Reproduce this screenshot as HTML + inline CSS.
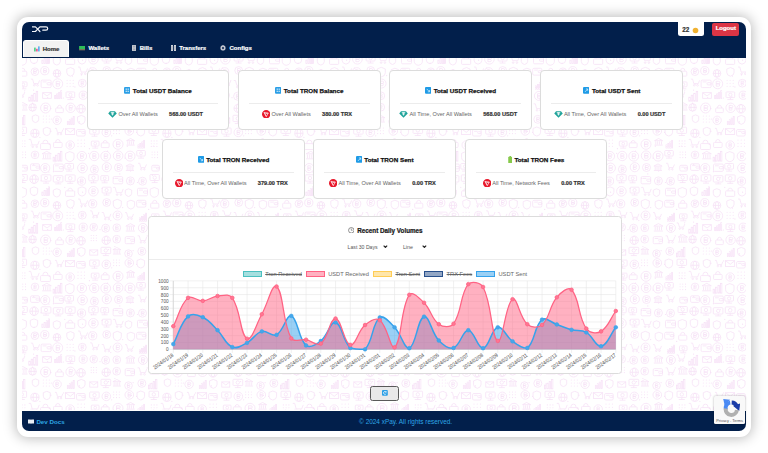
<!DOCTYPE html>
<html><head><meta charset="utf-8"><title>xPay Dashboard</title>
<style>
*{box-sizing:border-box;margin:0;padding:0}
html,body{width:768px;height:453px;overflow:hidden;background:#fff}
body{position:relative;font-family:"Liberation Sans",Arial,sans-serif;color:#222}
.frame{position:absolute;left:17px;top:16.5px;width:734px;height:420.3px;border-radius:11px;background:#fff;box-shadow:0 0 13px 1px rgba(0,0,0,.28)}
.page{position:absolute;left:22.3px;top:22.3px;width:723.5px;height:408.5px;border-radius:7px;overflow:hidden;background:#fff}
.hdr{position:absolute;left:0;top:0;width:100%;height:35.6px;background:#021f4b}
.pat{position:absolute;left:0;top:35.6px}
.ftr{position:absolute;left:0;top:389.0px;width:100%;height:19.5px;background:#021f4b}
.tab{position:absolute;top:17.7px;height:17px;font-weight:bold;font-size:6.0px;color:#fff;display:flex;align-items:center;white-space:nowrap}
.tab.act{left:0.7px;width:46.1px;background:#f2f2f2;border:0.8px solid #fff;border-bottom:none;border-radius:3px 3px 0 0;color:#333;padding-left:9.8px}
.tab svg{margin-right:3.2px}
.card{position:absolute;width:142.8px;height:60.6px;background:#fff;border:0.8px solid #dcdcdc;border-radius:4px}
.ct{position:absolute;left:0;right:0;top:16.9px;height:7px;display:flex;justify-content:center;align-items:center;font-weight:bold;font-size:6.25px;letter-spacing:0;color:#111;white-space:nowrap}
.ct .ti{margin-right:2.4px;flex:none;position:relative;top:-0.4px}
.cd{position:absolute;left:10px;right:10px;top:32.6px;height:0.8px;background:#ececec}
.cb{position:absolute;left:0;right:4.4px;top:39.4px;height:8.4px;display:flex;justify-content:center;align-items:center;white-space:nowrap;font-size:5.62px;color:#666}
.cb .ic{flex:none;margin-right:1px}
.cb .vl{font-weight:bold;color:#333;margin-left:11.3px;font-size:5.6px}
.chartcard{position:absolute;left:148.4px;top:216.3px;width:473.3px;height:157.8px;background:#fff;border:0.8px solid #dcdcdc;border-radius:3.5px}
.chart{position:absolute;left:148px;top:216px}
.yl{font-size:5.3px;fill:#666;stroke:#777;stroke-width:0.06px;text-anchor:end;font-family:"Liberation Sans",Arial,sans-serif}
.xl{font-size:5.45px;fill:#666;stroke:#777;stroke-width:0.06px;text-anchor:end;font-family:"Liberation Sans",Arial,sans-serif}
.lg{position:absolute;top:270.7px;height:6.4px;font-size:5.7px;color:#666;white-space:nowrap;line-height:6.4px}
.lgb{position:absolute;top:270.5px;width:19.3px;height:6.6px;border:0.9px solid}
.strike{text-decoration:line-through}
.bw{-webkit-text-stroke:0.22px currentColor}
.tab,.cb .vl{-webkit-text-stroke:0.2px currentColor}
.ct{-webkit-text-stroke:0.25px currentColor}
</style></head><body>
<div id="root" style="position:absolute;left:0;top:0;width:768px;height:453px">
<div class="frame"></div>
<div class="page">
  <div class="hdr">
    <svg style="position:absolute;left:9.4px;top:3.6px" width="17" height="7" viewBox="0 0 17 7">
      <path d="M0.4 0.8H3.4L5.7 3.15L7.9 5.5M0.4 5.5H3.4L5.7 3.15L7.9 0.8H14A1.7 1.7 0 0 1 14 4.2H10.8" stroke="#f4f6fa" stroke-width="1.2" fill="none" stroke-linejoin="round" stroke-linecap="round"/>
    </svg>
    <div class="tab act"><svg width="5.8" height="5.6" viewBox="0 0 12 11"><rect x="0.5" y="3" width="2.8" height="8" fill="#28c76f"/><rect x="4.6" y="5.5" width="2.8" height="5.5" fill="#ea2f7a"/><rect x="8.7" y="0.5" width="2.8" height="10.5" fill="#3aa0f0"/></svg><span>Home</span></div><div class="tab" style="left:56.5px"><svg width="6.4" height="4.3" viewBox="0 0 13 9"><rect width="13" height="6.5" fill="#2ebd59"/><rect y="6.5" width="13" height="2.5" fill="#8a7a5a"/></svg><span>Wallets</span></div><div class="tab" style="left:109.8px"><svg width="4.4" height="6" viewBox="0 0 9 12"><rect width="9" height="12" fill="#c9ccd2"/><path d="M2 3H7M2 6H7M2 9H7" stroke="#7d8190" stroke-width="1"/></svg><span>Bills</span></div><div class="tab" style="left:148.7px"><svg width="5" height="6" viewBox="0 0 10 12"><rect width="4" height="12" fill="#cfd3da"/><rect x="6" width="4" height="12" fill="#cfd3da"/><path d="M0 4H10M0 8H10" stroke="#7d8190" stroke-width="1"/></svg><span>Transfers</span></div><div class="tab" style="left:198.0px"><svg width="6" height="6" viewBox="0 0 12 12"><g fill="#c9ccd4"><circle cx="6" cy="6" r="4.2"/><rect x="5" y="0" width="2" height="12" rx=".5"/><rect x="0" y="5" width="12" height="2" rx=".5"/><rect x="5" y="0" width="2" height="12" rx=".5" transform="rotate(45 6 6)"/><rect x="5" y="0" width="2" height="12" rx=".5" transform="rotate(-45 6 6)"/></g><circle cx="6" cy="6" r="2" fill="#021f4b"/></svg><span>Configs</span></div>
    <div style="position:absolute;left:655.8px;top:0;width:26px;height:13.4px;background:#fff;border-radius:0 0 2.5px 2.5px"></div>
    <div style="position:absolute;left:660px;top:3.6px;font-size:6.3px;font-weight:bold;color:#333" class="bw">22</div>
    <svg style="position:absolute;left:669.6px;top:4.4px" width="7" height="7" viewBox="0 0 7 7"><circle cx="3.5" cy="3.5" r="2.8" fill="#f0b232"/></svg>
    <div style="position:absolute;left:690px;top:0.3px;width:27px;height:13.1px;background:#dc3545;border-radius:2px;color:#fff;font-size:6.0px;font-weight:bold;text-align:center;line-height:11.6px" class="bw">Logout</div>
  </div>
  <svg class="pat" width="724" height="352"><defs><pattern id="pt" width="132" height="132" patternUnits="userSpaceOnUse" x="-6" y="-4"><g fill="none" stroke="#f6e0f6" stroke-width="0.75"><path d="M6.3 1.5l4.1 1.6v4.1q0 3.3-4.1 4.1q-4.1-0.8-4.1-4.1v-4.1z"/><path d="M18 0.9l3.7 1.5v3.7q0 3-3.7 3.7q-3.7-0.7-3.7-3.7v-3.7z"/><rect x="25.9" y="6.1" width="1.2" height="3.5"/><rect x="28.1" y="4.4" width="1.2" height="5.2"/><rect x="30.3" y="2.7" width="1.2" height="7"/><rect x="32.4" y="0.9" width="1.2" height="8.7"/><path d="M40.8 2.7l3.5 1.4v3.5q0 2.8-3.5 3.5q-3.5-0.7-3.5-3.5v-3.5z"/><rect x="49.6" y="4.9" width="9.1" height="5.5" rx=".8"/><path d="M51.9 4.9v-0.9a2.3 2.3 0 0 1 4.5 0v0.9"/><path d="M66 0.8l3.9 1.6v3.9q0 3.1-3.9 3.9q-3.9-0.8-3.9-3.9v-3.9z"/><circle cx="77.4" cy="5.3" r="4.8"/><path d="M75.9 2.9V7.7H78.1A1.2 1.2 0 0 0 78.1 5.3H75.9H78.3A1.2 1.2 0 0 0 78.3 2.9H75.9"/><rect x="86.1" y="1.2" width="9" height="5.8" rx=".8"/><path d="M90.6 7v2M87.6 9h6"/><circle cx="90.6" cy="4.1" r="1.6"/><path d="M97.2 1.4h1.9l1.4 5.3h5.3l1.4-3.8"/><circle cx="101.1" cy="8.6" r=".8"/><circle cx="104.9" cy="8.6" r=".8"/><path d="M112.5 2.8l3.2 1.3v3.2q0 2.6-3.2 3.2q-3.2-0.6-3.2-3.2v-3.2z"/><rect x="121.5" y="2.3" width="10" height="7.5" rx="1.2"/><rect x="127.5" y="5" width="4" height="2.2" rx=".8"/><path d="M123 4.1h4"/><rect x="2.7" y="17.2" width="8.1" height="4.9" rx=".8"/><path d="M4.7 17.2v-0.8a2 2 0 0 1 4.1 0v0.8"/><circle cx="18.9" cy="17.7" r="3.8"/><path d="M17.7 15.7V19.6H19.5A1 1 0 0 0 19.5 17.7H17.7H19.7A1 1 0 0 0 19.7 15.7H17.7"/><circle cx="28.8" cy="16.7" r="4.1"/><path d="M27.6 14.6V18.7H29.4A1 1 0 0 0 29.4 16.7H27.6H29.6A1 1 0 0 0 29.6 14.6H27.6"/><circle cx="41" cy="19.4" r="3.8"/><ellipse cx="41" cy="19.4" rx="1.7" ry="3.8"/><path d="M37.2 19.4h7.5"/><path d="M54.4 13.6l3.6 1.4v3.6q0 2.9-3.6 3.6q-3.6-0.7-3.6-3.6v-3.6z"/><path d="M62 13h1.8l1.4 5h5l1.4-3.6"/><circle cx="65.6" cy="19.8" r=".8"/><circle cx="69.3" cy="19.8" r=".8"/><circle cx="76.7" cy="17.8" r="4.1"/><path d="M75.4 15.7V19.8H77.3A1 1 0 0 0 77.3 17.8H75.4H77.5A1 1 0 0 0 77.5 15.7H75.4"/><circle cx="90.7" cy="16.5" r="3.9"/><path d="M89.5 14.5V18.4H91.2A1 1 0 0 0 91.2 16.5H89.5H91.4A1 1 0 0 0 91.4 14.5H89.5"/><path d="M101.3 13.3l4 1.6v4q0 3.2-4 4q-4-0.8-4-4v-4z"/><path d="M114.9 14.2l3.7 1.5v3.7q0 3-3.7 3.7q-3.7-0.7-3.7-3.7v-3.7z"/><rect x="120.7" y="14.3" width="9.1" height="6.8" rx="1.2"/><rect x="126.2" y="16.7" width="3.6" height="2" rx=".8"/><path d="M122.2 16.1h3.6"/><rect x="3.5" y="27.9" width="7.5" height="4.9" rx=".8"/><path d="M7.3 32.8v2M4.3 34.8h6"/><circle cx="7.3" cy="30.4" r="1.4"/><path d="M14.9 25.1h1.7l1.2 4.5h4.5l1.2-3.3"/><circle cx="18.2" cy="31.3" r=".8"/><circle cx="21.5" cy="31.3" r=".8"/><rect x="25.1" y="26.1" width="10" height="7.5" rx="1.2"/><rect x="31.1" y="28.7" width="4" height="2.2" rx=".8"/><path d="M26.6 27.9h4"/><circle cx="41.7" cy="29.8" r="5"/><path d="M40.2 27.3V32.2H42.5A1.2 1.2 0 0 0 42.5 29.8H40.2H42.7A1.2 1.2 0 0 0 42.7 27.3H40.2"/><circle cx="51.1" cy="26.3" r=".55" fill="#f6e0f6" stroke="none"/><circle cx="51.1" cy="29.3" r=".55" fill="#f6e0f6" stroke="none"/><circle cx="51.1" cy="32.3" r=".55" fill="#f6e0f6" stroke="none"/><circle cx="54.1" cy="26.3" r=".55" fill="#f6e0f6" stroke="none"/><circle cx="54.1" cy="29.3" r=".55" fill="#f6e0f6" stroke="none"/><circle cx="54.1" cy="32.3" r=".55" fill="#f6e0f6" stroke="none"/><circle cx="57.2" cy="26.3" r=".55" fill="#f6e0f6" stroke="none"/><circle cx="57.2" cy="29.3" r=".55" fill="#f6e0f6" stroke="none"/><circle cx="57.2" cy="32.3" r=".55" fill="#f6e0f6" stroke="none"/><circle cx="66.3" cy="29.2" r="3.9"/><path d="M65.1 27.2V31.1H66.9A1 1 0 0 0 66.9 29.2H65.1H67A1 1 0 0 0 67 27.2H65.1"/><path d="M74.1 24.8h1.7l1.3 4.6h4.6l1.3-3.4"/><circle cx="77.5" cy="31.1" r=".8"/><circle cx="80.8" cy="31.1" r=".8"/><path d="M85.8 26.5h1.7l1.3 4.8h4.8l1.3-3.5"/><circle cx="89.3" cy="33" r=".8"/><circle cx="92.8" cy="33" r=".8"/><circle cx="101.6" cy="29.5" r="4.5"/><path d="M100.3 27.2V31.7H102.3A1.1 1.1 0 0 0 102.3 29.5H100.3H102.5A1.1 1.1 0 0 0 102.5 27.2H100.3"/><path d="M109 26.6h1.6l1.2 4.5h4.5l1.2-3.2"/><circle cx="112.3" cy="32.7" r=".8"/><circle cx="115.5" cy="32.7" r=".8"/><rect x="123.4" y="31.9" width="1" height="3.2"/><rect x="125.4" y="30.4" width="1" height="4.8"/><rect x="127.4" y="28.8" width="1" height="6.4"/><rect x="129.4" y="27.2" width="1" height="8"/><path d="M0.7 36.9h1.5l1.2 4.2h4.2l1.2-3.1"/><circle cx="3.7" cy="42.6" r=".8"/><circle cx="6.8" cy="42.6" r=".8"/><rect x="12.8" y="43.2" width="1.5" height="4"/><rect x="15.2" y="41.2" width="1.5" height="5.9"/><rect x="17.7" y="39.3" width="1.5" height="7.9"/><rect x="20.2" y="37.3" width="1.5" height="9.9"/><rect x="26.7" y="38.7" width="8.6" height="5.6"/><path d="M26.7 38.7l4.3 3.3l4.3 -3.3"/><rect x="38.7" y="41.5" width="1" height="3.2"/><rect x="40.7" y="39.9" width="1" height="4.8"/><rect x="42.7" y="38.3" width="1" height="6.4"/><rect x="44.7" y="36.7" width="1" height="7.9"/><rect x="50" y="37.9" width="8.7" height="5.7" rx=".8"/><path d="M54.4 43.6v2M51.4 45.6h6"/><circle cx="54.4" cy="40.8" r="1.6"/><circle cx="67.2" cy="41.2" r="4.1"/><path d="M65.9 39.1V43.2H67.8A1 1 0 0 0 67.8 41.2H65.9H68A1 1 0 0 0 68 39.1H65.9"/><circle cx="77.7" cy="41.2" r="3.8"/><path d="M76.6 39.2V43.1H78.3A1 1 0 0 0 78.3 41.2H76.6H78.5A1 1 0 0 0 78.5 39.2H76.6"/><circle cx="89.6" cy="42.2" r="4"/><path d="M88.4 40.2V44.2H90.2A1 1 0 0 0 90.2 42.2H88.4H90.4A1 1 0 0 0 90.4 40.2H88.4"/><circle cx="100.8" cy="41.8" r="3.9"/><path d="M99.7 39.9V43.8H101.4A1 1 0 0 0 101.4 41.8H99.7H101.6A1 1 0 0 0 101.6 39.9H99.7"/><path d="M109.8 40.1l4.6 -2.5l4.6 2.5z"/><path d="M111.2 40.7v3.7"/><path d="M113.3 40.7v3.7"/><path d="M115.4 40.7v3.7"/><path d="M117.5 40.7v3.7"/><path d="M109.8 45h9.1"/><circle cx="126.9" cy="41.9" r="4.5"/><path d="M125.5 39.7V44.2H127.5A1.1 1.1 0 0 0 127.5 41.9H125.5H127.8A1.1 1.1 0 0 0 127.8 39.7H125.5"/><path d="M2.2 51l4.6 -2.5l4.6 2.5z"/><path d="M3.6 51.7v3.7"/><path d="M5.7 51.7v3.7"/><path d="M7.9 51.7v3.7"/><path d="M10 51.7v3.7"/><path d="M2.2 56h9.3"/><circle cx="16.6" cy="53.4" r="3.8"/><ellipse cx="16.6" cy="53.4" rx="1.7" ry="3.8"/><path d="M12.7 53.4h7.7"/><circle cx="29.6" cy="54" r="5"/><path d="M28.1 51.5V56.5H30.3A1.2 1.2 0 0 0 30.3 54H28.1H30.6A1.2 1.2 0 0 0 30.6 51.5H28.1"/><rect x="39.7" y="54" width="7.6" height="4.6" rx=".8"/><path d="M41.6 54v-0.8a1.9 1.9 0 0 1 3.8 0v0.8"/><circle cx="54.6" cy="53.8" r="4.7"/><path d="M53.2 51.4V56.1H55.3A1.2 1.2 0 0 0 55.3 53.8H53.2H55.6A1.2 1.2 0 0 0 55.6 51.4H53.2"/><circle cx="65" cy="54.8" r="4.3"/><ellipse cx="65" cy="54.8" rx="2" ry="4.3"/><path d="M60.7 54.8h8.7"/><circle cx="75.2" cy="49.5" r=".55" fill="#f6e0f6" stroke="none"/><circle cx="75.2" cy="52.1" r=".55" fill="#f6e0f6" stroke="none"/><circle cx="75.2" cy="54.6" r=".55" fill="#f6e0f6" stroke="none"/><circle cx="77.7" cy="49.5" r=".55" fill="#f6e0f6" stroke="none"/><circle cx="77.7" cy="52.1" r=".55" fill="#f6e0f6" stroke="none"/><circle cx="77.7" cy="54.6" r=".55" fill="#f6e0f6" stroke="none"/><circle cx="80.3" cy="49.5" r=".55" fill="#f6e0f6" stroke="none"/><circle cx="80.3" cy="52.1" r=".55" fill="#f6e0f6" stroke="none"/><circle cx="80.3" cy="54.6" r=".55" fill="#f6e0f6" stroke="none"/><circle cx="90.2" cy="54.3" r="4.2"/><ellipse cx="90.2" cy="54.3" rx="1.9" ry="4.2"/><path d="M86 54.3h8.5"/><circle cx="100.7" cy="53.2" r="3.9"/><path d="M99.6 51.3V55.1H101.3A1 1 0 0 0 101.3 53.2H99.6H101.5A1 1 0 0 0 101.5 51.3H99.6"/><rect x="109.2" y="50.7" width="9.3" height="7" rx="1.2"/><rect x="114.7" y="53.2" width="3.7" height="2.1" rx=".8"/><path d="M110.7 52.5h3.7"/><path d="M121.6 49.8h1.7l1.3 4.8h4.8l1.3-3.5"/><circle cx="125" cy="56.3" r=".8"/><circle cx="128.5" cy="56.3" r=".8"/><rect x="0.5" y="67.1" width="1.3" height="3.8"/><rect x="2.9" y="65.2" width="1.3" height="5.6"/><rect x="5.2" y="63.4" width="1.3" height="7.5"/><rect x="7.6" y="61.5" width="1.3" height="9.4"/><path d="M19.5 60.9l3.2 1.3v3.2q0 2.6-3.2 3.2q-3.2-0.6-3.2-3.2v-3.2z"/><circle cx="27.3" cy="62" r=".55" fill="#f6e0f6" stroke="none"/><circle cx="27.3" cy="65" r=".55" fill="#f6e0f6" stroke="none"/><circle cx="27.3" cy="68" r=".55" fill="#f6e0f6" stroke="none"/><circle cx="30.3" cy="62" r=".55" fill="#f6e0f6" stroke="none"/><circle cx="30.3" cy="65" r=".55" fill="#f6e0f6" stroke="none"/><circle cx="30.3" cy="68" r=".55" fill="#f6e0f6" stroke="none"/><circle cx="33.3" cy="62" r=".55" fill="#f6e0f6" stroke="none"/><circle cx="33.3" cy="65" r=".55" fill="#f6e0f6" stroke="none"/><circle cx="33.3" cy="68" r=".55" fill="#f6e0f6" stroke="none"/><circle cx="41.1" cy="66.3" r="4.2"/><path d="M39.8 64.2V68.4H41.7A1.1 1.1 0 0 0 41.7 66.3H39.8H41.9A1.1 1.1 0 0 0 41.9 64.2H39.8"/><rect x="51.3" y="67.3" width="1" height="3.2"/><rect x="53.3" y="65.7" width="1" height="4.8"/><rect x="55.2" y="64.1" width="1" height="6.3"/><rect x="57.2" y="62.5" width="1" height="7.9"/><path d="M65.3 61.4l3.7 1.5v3.7q0 3-3.7 3.7q-3.7-0.7-3.7-3.7v-3.7z"/><rect x="73.8" y="63.9" width="8" height="5.2"/><path d="M73.8 63.9l4 3.1l4 -3.1"/><rect x="85" y="61.3" width="9.7" height="6.3" rx=".8"/><path d="M89.8 67.6v2M86.8 69.6h6"/><circle cx="89.8" cy="64.5" r="1.7"/><path d="M96.9 63.7l4 -2.2l4 2.2z"/><path d="M98.1 64.3v3.3"/><path d="M100 64.3v3.3"/><path d="M101.8 64.3v3.3"/><path d="M103.7 64.3v3.3"/><path d="M96.9 68h8"/><circle cx="112.5" cy="67.6" r="3.8"/><path d="M111.4 65.7V69.5H113.1A1 1 0 0 0 113.1 67.6H111.4H113.3A1 1 0 0 0 113.3 65.7H111.4"/><circle cx="125.8" cy="65.3" r="4"/><path d="M124.7 63.3V67.3H126.4A1 1 0 0 0 126.4 65.3H124.7H126.6A1 1 0 0 0 126.6 63.3H124.7"/><rect x="1" y="73.2" width="9.6" height="6.2" rx=".8"/><path d="M5.8 79.5v2M2.8 81.5h6"/><circle cx="5.8" cy="76.4" r="1.7"/><circle cx="18.9" cy="79.3" r="4.1"/><ellipse cx="18.9" cy="79.3" rx="1.9" ry="4.1"/><path d="M14.8 79.3h8.3"/><path d="M30.8 73.3l3.5 1.4v3.5q0 2.8-3.5 3.5q-3.5-0.7-3.5-3.5v-3.5z"/><path d="M38.9 74.4h1.5l1.1 4.2h4.2l1.1-3"/><circle cx="41.9" cy="80.1" r=".8"/><circle cx="45" cy="80.1" r=".8"/><rect x="49.6" y="74.7" width="9.1" height="5.9"/><path d="M49.6 74.7l4.6 3.6l4.6 -3.6"/><rect x="60.6" y="75.5" width="8.6" height="6.5" rx="1.2"/><rect x="65.7" y="77.7" width="3.5" height="1.9" rx=".8"/><path d="M62.1 77.3h3.5"/><rect x="73.7" y="74" width="9.4" height="6.1" rx=".8"/><path d="M78.5 80.2v2M75.5 82.2h6"/><circle cx="78.5" cy="77.1" r="1.7"/><circle cx="90.3" cy="78.4" r="4.3"/><path d="M89 76.2V80.5H91A1.1 1.1 0 0 0 91 78.4H89H91.2A1.1 1.1 0 0 0 91.2 76.2H89"/><circle cx="97.7" cy="74" r=".55" fill="#f6e0f6" stroke="none"/><circle cx="97.7" cy="76.8" r=".55" fill="#f6e0f6" stroke="none"/><circle cx="97.7" cy="79.6" r=".55" fill="#f6e0f6" stroke="none"/><circle cx="100.5" cy="74" r=".55" fill="#f6e0f6" stroke="none"/><circle cx="100.5" cy="76.8" r=".55" fill="#f6e0f6" stroke="none"/><circle cx="100.5" cy="79.6" r=".55" fill="#f6e0f6" stroke="none"/><circle cx="103.3" cy="74" r=".55" fill="#f6e0f6" stroke="none"/><circle cx="103.3" cy="76.8" r=".55" fill="#f6e0f6" stroke="none"/><circle cx="103.3" cy="79.6" r=".55" fill="#f6e0f6" stroke="none"/><circle cx="113.3" cy="76.9" r="4.3"/><path d="M112 74.7V79H113.9A1.1 1.1 0 0 0 113.9 76.9H112H114.1A1.1 1.1 0 0 0 114.1 74.7H112"/><path d="M124.8 73l3.8 1.5v3.8q0 3-3.8 3.8q-3.8-0.8-3.8-3.8v-3.8z"/><circle cx="3.3" cy="86.9" r=".55" fill="#f6e0f6" stroke="none"/><circle cx="3.3" cy="89.7" r=".55" fill="#f6e0f6" stroke="none"/><circle cx="3.3" cy="92.4" r=".55" fill="#f6e0f6" stroke="none"/><circle cx="6.1" cy="86.9" r=".55" fill="#f6e0f6" stroke="none"/><circle cx="6.1" cy="89.7" r=".55" fill="#f6e0f6" stroke="none"/><circle cx="6.1" cy="92.4" r=".55" fill="#f6e0f6" stroke="none"/><circle cx="8.9" cy="86.9" r=".55" fill="#f6e0f6" stroke="none"/><circle cx="8.9" cy="89.7" r=".55" fill="#f6e0f6" stroke="none"/><circle cx="8.9" cy="92.4" r=".55" fill="#f6e0f6" stroke="none"/><path d="M12.7 85.4h2l1.5 5.5h5.5l1.5-4"/><circle cx="16.7" cy="92.8" r=".8"/><circle cx="20.7" cy="92.8" r=".8"/><rect x="24.6" y="89.6" width="9.8" height="5.9" rx=".8"/><path d="M27 89.6v-1a2.4 2.4 0 0 1 4.9 0v1"/><rect x="37.6" y="88.4" width="8.5" height="5.1" rx=".8"/><path d="M39.8 88.4v-0.8a2.1 2.1 0 0 1 4.2 0v0.8"/><circle cx="54.2" cy="91" r="4.2"/><path d="M52.9 88.9V93.1H54.8A1.1 1.1 0 0 0 54.8 91H52.9H55A1.1 1.1 0 0 0 55 88.9H52.9"/><circle cx="62" cy="86" r=".55" fill="#f6e0f6" stroke="none"/><circle cx="62" cy="89.2" r=".55" fill="#f6e0f6" stroke="none"/><circle cx="62" cy="92.3" r=".55" fill="#f6e0f6" stroke="none"/><circle cx="65.2" cy="86" r=".55" fill="#f6e0f6" stroke="none"/><circle cx="65.2" cy="89.2" r=".55" fill="#f6e0f6" stroke="none"/><circle cx="65.2" cy="92.3" r=".55" fill="#f6e0f6" stroke="none"/><circle cx="68.4" cy="86" r=".55" fill="#f6e0f6" stroke="none"/><circle cx="68.4" cy="89.2" r=".55" fill="#f6e0f6" stroke="none"/><circle cx="68.4" cy="92.3" r=".55" fill="#f6e0f6" stroke="none"/><rect x="75.3" y="87.1" width="7.7" height="5" rx=".8"/><path d="M79.2 92.1v2M76.2 94.1h6"/><circle cx="79.2" cy="89.7" r="1.4"/><rect x="85.3" y="88.9" width="7.8" height="4.7" rx=".8"/><path d="M87.2 88.9v-0.8a2 2 0 0 1 3.9 0v0.8"/><circle cx="102" cy="90.3" r="5"/><path d="M100.5 87.8V92.8H102.8A1.2 1.2 0 0 0 102.8 90.3H100.5H103A1.2 1.2 0 0 0 103 87.8H100.5"/><path d="M110.5 86.7l4.1 -2.2l4.1 2.2z"/><path d="M111.8 87.3v3.3"/><path d="M113.7 87.3v3.3"/><path d="M115.6 87.3v3.3"/><path d="M117.5 87.3v3.3"/><path d="M110.5 91.1h8.2"/><rect x="122" y="90.9" width="0.9" height="3.1"/><rect x="123.9" y="89.4" width="0.9" height="4.6"/><rect x="125.8" y="87.9" width="0.9" height="6.2"/><rect x="127.7" y="86.3" width="0.9" height="7.7"/><circle cx="4.1" cy="98.1" r=".55" fill="#f6e0f6" stroke="none"/><circle cx="4.1" cy="100.8" r=".55" fill="#f6e0f6" stroke="none"/><circle cx="4.1" cy="103.6" r=".55" fill="#f6e0f6" stroke="none"/><circle cx="6.8" cy="98.1" r=".55" fill="#f6e0f6" stroke="none"/><circle cx="6.8" cy="100.8" r=".55" fill="#f6e0f6" stroke="none"/><circle cx="6.8" cy="103.6" r=".55" fill="#f6e0f6" stroke="none"/><circle cx="9.5" cy="98.1" r=".55" fill="#f6e0f6" stroke="none"/><circle cx="9.5" cy="100.8" r=".55" fill="#f6e0f6" stroke="none"/><circle cx="9.5" cy="103.6" r=".55" fill="#f6e0f6" stroke="none"/><circle cx="19" cy="100.9" r="3.8"/><path d="M17.9 99V102.8H19.6A1 1 0 0 0 19.6 100.9H17.9H19.8A1 1 0 0 0 19.8 99H17.9"/><path d="M26.1 99.8l4.6 -2.5l4.6 2.5z"/><path d="M27.5 100.5v3.7"/><path d="M29.7 100.5v3.7"/><path d="M31.8 100.5v3.7"/><path d="M34 100.5v3.7"/><path d="M26.1 104.8h9.2"/><rect x="37.1" y="103.2" width="1.4" height="3.9"/><rect x="39.6" y="101.2" width="1.4" height="5.9"/><rect x="42" y="99.3" width="1.4" height="7.8"/><rect x="44.5" y="97.3" width="1.4" height="9.8"/><path d="M53.8 97.6l4.2 1.7v4.2q0 3.4-4.2 4.2q-4.2-0.8-4.2-4.2v-4.2z"/><circle cx="65.9" cy="102.1" r="4.7"/><path d="M64.5 99.7V104.4H66.6A1.2 1.2 0 0 0 66.6 102.1H64.5H66.8A1.2 1.2 0 0 0 66.8 99.7H64.5"/><circle cx="78.2" cy="102" r="4.7"/><path d="M76.8 99.7V104.4H78.9A1.2 1.2 0 0 0 78.9 102H76.8H79.2A1.2 1.2 0 0 0 79.2 99.7H76.8"/><circle cx="89.7" cy="102.2" r="4.9"/><path d="M88.2 99.8V104.7H90.4A1.2 1.2 0 0 0 90.4 102.2H88.2H90.7A1.2 1.2 0 0 0 90.7 99.8H88.2"/><circle cx="102.1" cy="101.7" r="4.8"/><path d="M100.7 99.3V104.2H102.9A1.2 1.2 0 0 0 102.9 101.7H100.7H103.1A1.2 1.2 0 0 0 103.1 99.3H100.7"/><circle cx="114" cy="102.1" r="5"/><path d="M112.5 99.6V104.6H114.8A1.2 1.2 0 0 0 114.8 102.1H112.5H115A1.2 1.2 0 0 0 115 99.6H112.5"/><rect x="120.8" y="96.5" width="8.5" height="5.5" rx=".8"/><path d="M125 102.1v2M122 104.1h6"/><circle cx="125" cy="99.3" r="1.5"/><rect x="3.8" y="111.3" width="7.6" height="5.7" rx="1.2"/><rect x="8.4" y="113.3" width="3" height="1.7" rx=".8"/><path d="M5.3 113.1h3"/><rect x="14.6" y="109.8" width="8.9" height="6.6" rx="1.2"/><rect x="19.9" y="112.1" width="3.5" height="2" rx=".8"/><path d="M16.1 111.6h3.5"/><circle cx="29.2" cy="114.1" r="4.6"/><path d="M27.8 111.8V116.4H29.9A1.2 1.2 0 0 0 29.9 114.1H27.8H30.2A1.2 1.2 0 0 0 30.2 111.8H27.8"/><rect x="37.5" y="110" width="9.8" height="7.4" rx="1.2"/><rect x="43.3" y="112.6" width="3.9" height="2.2" rx=".8"/><path d="M39 111.8h3.9"/><rect x="48.8" y="109.5" width="8.7" height="5.6" rx=".8"/><path d="M53.1 115.1v2M50.1 117.1h6"/><circle cx="53.1" cy="112.4" r="1.6"/><circle cx="66.5" cy="114" r="4.9"/><path d="M65 111.6V116.5H67.2A1.2 1.2 0 0 0 67.2 114H65H67.5A1.2 1.2 0 0 0 67.5 111.6H65"/><circle cx="78.4" cy="115.3" r="4"/><path d="M77.2 113.3V117.3H79A1 1 0 0 0 79 115.3H77.2H79.2A1 1 0 0 0 79.2 113.3H77.2"/><circle cx="90.8" cy="113.2" r="4.6"/><path d="M89.4 110.9V115.5H91.5A1.2 1.2 0 0 0 91.5 113.2H89.4H91.8A1.2 1.2 0 0 0 91.8 110.9H89.4"/><circle cx="102.5" cy="113.5" r="4"/><path d="M101.3 111.5V115.5H103.2A1 1 0 0 0 103.2 113.5H101.3H103.4A1 1 0 0 0 103.4 111.5H101.3"/><path d="M109.9 112.1l4.1 -2.2l4.1 2.2z"/><path d="M111.2 112.7v3.3"/><path d="M113 112.7v3.3"/><path d="M114.9 112.7v3.3"/><path d="M116.8 112.7v3.3"/><path d="M109.9 116.5h8.1"/><path d="M122.1 109.3h1.6l1.2 4.3h4.3l1.2-3.1"/><circle cx="125.3" cy="115.2" r=".8"/><circle cx="128.4" cy="115.2" r=".8"/><rect x="2" y="120.5" width="9.3" height="6" rx=".8"/><path d="M6.7 126.6v2M3.7 128.6h6"/><circle cx="6.7" cy="123.6" r="1.7"/><circle cx="18.1" cy="125.2" r="4.3"/><ellipse cx="18.1" cy="125.2" rx="1.9" ry="4.3"/><path d="M13.8 125.2h8.5"/><rect x="25.2" y="120.8" width="9.7" height="6.3" rx=".8"/><path d="M30 127.1v2M27 129.1h6"/><circle cx="30" cy="124" r="1.7"/><rect x="37.3" y="121.7" width="9.6" height="6.3" rx=".8"/><path d="M42.2 127.9v2M39.2 129.9h6"/><circle cx="42.2" cy="124.9" r="1.7"/><rect x="49.3" y="120.9" width="9.8" height="6.4" rx=".8"/><path d="M54.2 127.3v2M51.2 129.3h6"/><circle cx="54.2" cy="124.2" r="1.8"/><circle cx="65.5" cy="127.1" r="4.1"/><path d="M64.3 125.1V129.2H66.1A1 1 0 0 0 66.1 127.1H64.3H66.3A1 1 0 0 0 66.3 125.1H64.3"/><rect x="72.8" y="120.7" width="9.4" height="6.1" rx=".8"/><path d="M77.5 126.8v2M74.5 128.8h6"/><circle cx="77.5" cy="123.8" r="1.7"/><rect x="84.8" y="121.7" width="7.8" height="5.1" rx=".8"/><path d="M88.7 126.8v2M85.7 128.8h6"/><circle cx="88.7" cy="124.3" r="1.4"/><rect x="97.1" y="122.6" width="9.6" height="7.2" rx="1.2"/><rect x="102.8" y="125.1" width="3.8" height="2.2" rx=".8"/><path d="M98.6 124.4h3.8"/><circle cx="114.4" cy="126.9" r="4"/><path d="M113.2 124.9V128.9H115A1 1 0 0 0 115 126.9H113.2H115.2A1 1 0 0 0 115.2 124.9H113.2"/><circle cx="126.5" cy="127.2" r="4"/><path d="M125.3 125.2V129.2H127.1A1 1 0 0 0 127.1 127.2H125.3H127.3A1 1 0 0 0 127.3 125.2H125.3"/><circle cx="18.1" cy="9.1" r=".6" fill="#f6e0f6" stroke="none"/><circle cx="48.8" cy="1.3" r=".6" fill="#f6e0f6" stroke="none"/><circle cx="66.6" cy="6.2" r=".6" fill="#f6e0f6" stroke="none"/><circle cx="86.2" cy="2.4" r=".6" fill="#f6e0f6" stroke="none"/><circle cx="0.7" cy="23.4" r=".6" fill="#f6e0f6" stroke="none"/><circle cx="21.2" cy="15.9" r=".6" fill="#f6e0f6" stroke="none"/><circle cx="30.2" cy="17.2" r=".6" fill="#f6e0f6" stroke="none"/><circle cx="56.4" cy="22.1" r=".6" fill="#f6e0f6" stroke="none"/><circle cx="65.4" cy="20.9" r=".6" fill="#f6e0f6" stroke="none"/><circle cx="74.3" cy="14" r=".6" fill="#f6e0f6" stroke="none"/><circle cx="106.7" cy="21.6" r=".6" fill="#f6e0f6" stroke="none"/><circle cx="19.2" cy="30.1" r=".6" fill="#f6e0f6" stroke="none"/><circle cx="58.9" cy="32.9" r=".6" fill="#f6e0f6" stroke="none"/><circle cx="94.8" cy="34.6" r=".6" fill="#f6e0f6" stroke="none"/><circle cx="8.7" cy="36.8" r=".6" fill="#f6e0f6" stroke="none"/><circle cx="17.6" cy="36.1" r=".6" fill="#f6e0f6" stroke="none"/><circle cx="31.7" cy="43.5" r=".6" fill="#f6e0f6" stroke="none"/><circle cx="47.3" cy="44" r=".6" fill="#f6e0f6" stroke="none"/><circle cx="55.9" cy="42.8" r=".6" fill="#f6e0f6" stroke="none"/><circle cx="84" cy="43.7" r=".6" fill="#f6e0f6" stroke="none"/><circle cx="127.4" cy="44.9" r=".6" fill="#f6e0f6" stroke="none"/><circle cx="4.8" cy="48.6" r=".6" fill="#f6e0f6" stroke="none"/><circle cx="16.5" cy="49.2" r=".6" fill="#f6e0f6" stroke="none"/><circle cx="34.9" cy="54.6" r=".6" fill="#f6e0f6" stroke="none"/><circle cx="115.2" cy="57.1" r=".6" fill="#f6e0f6" stroke="none"/><circle cx="131.2" cy="49.9" r=".6" fill="#f6e0f6" stroke="none"/><circle cx="2" cy="65.9" r=".6" fill="#f6e0f6" stroke="none"/><circle cx="35.3" cy="65" r=".6" fill="#f6e0f6" stroke="none"/><circle cx="63.4" cy="67.9" r=".6" fill="#f6e0f6" stroke="none"/><circle cx="92.6" cy="63.6" r=".6" fill="#f6e0f6" stroke="none"/><circle cx="98.9" cy="60.5" r=".6" fill="#f6e0f6" stroke="none"/><circle cx="117.1" cy="64.7" r=".6" fill="#f6e0f6" stroke="none"/><circle cx="23.9" cy="83.3" r=".6" fill="#f6e0f6" stroke="none"/><circle cx="34.9" cy="77.2" r=".6" fill="#f6e0f6" stroke="none"/><circle cx="47.7" cy="74.9" r=".6" fill="#f6e0f6" stroke="none"/><circle cx="95.7" cy="81.8" r=".6" fill="#f6e0f6" stroke="none"/><circle cx="115.5" cy="77.5" r=".6" fill="#f6e0f6" stroke="none"/><circle cx="120.6" cy="78.3" r=".6" fill="#f6e0f6" stroke="none"/><circle cx="5.3" cy="92" r=".6" fill="#f6e0f6" stroke="none"/><circle cx="15.1" cy="91" r=".6" fill="#f6e0f6" stroke="none"/><circle cx="33.3" cy="90.4" r=".6" fill="#f6e0f6" stroke="none"/><circle cx="73.4" cy="94.7" r=".6" fill="#f6e0f6" stroke="none"/><circle cx="111.3" cy="92.2" r=".6" fill="#f6e0f6" stroke="none"/><circle cx="39" cy="107.8" r=".6" fill="#f6e0f6" stroke="none"/><circle cx="72.7" cy="99.3" r=".6" fill="#f6e0f6" stroke="none"/><circle cx="91.5" cy="97.2" r=".6" fill="#f6e0f6" stroke="none"/><circle cx="109" cy="104.1" r=".6" fill="#f6e0f6" stroke="none"/><circle cx="17.7" cy="110.5" r=".6" fill="#f6e0f6" stroke="none"/><circle cx="32.9" cy="118.1" r=".6" fill="#f6e0f6" stroke="none"/><circle cx="37.4" cy="117.7" r=".6" fill="#f6e0f6" stroke="none"/><circle cx="77.1" cy="111.1" r=".6" fill="#f6e0f6" stroke="none"/><circle cx="103.8" cy="119.9" r=".6" fill="#f6e0f6" stroke="none"/><circle cx="114.6" cy="117" r=".6" fill="#f6e0f6" stroke="none"/><circle cx="4.4" cy="121.2" r=".6" fill="#f6e0f6" stroke="none"/><circle cx="25" cy="126.8" r=".6" fill="#f6e0f6" stroke="none"/><circle cx="44.2" cy="123.6" r=".6" fill="#f6e0f6" stroke="none"/><circle cx="62.6" cy="127.9" r=".6" fill="#f6e0f6" stroke="none"/><circle cx="75.6" cy="128.7" r=".6" fill="#f6e0f6" stroke="none"/><circle cx="97.7" cy="124.3" r=".6" fill="#f6e0f6" stroke="none"/><circle cx="121.4" cy="128.5" r=".6" fill="#f6e0f6" stroke="none"/></g></pattern></defs><rect width="724" height="352" fill="#ffffff"/><rect width="724" height="352" fill="url(#pt)"/></svg>
  <div class="ftr">
    <svg style="position:absolute;left:5.3px;top:7.6px" width="6" height="5" viewBox="0 0 12 10"><path d="M0 1H5Q6 1 6 2V10Q6 9 5 9H0ZM12 1H7Q6 1 6 2V10Q6 9 7 9H12Z" fill="#e8eef5"/></svg>
    <div style="position:absolute;left:14.1px;top:6.4px;font-size:6.2px;font-weight:bold;color:#2ea7e6">Dev Docs</div>
    <div style="position:absolute;left:336.8px;top:6.3px;font-size:6.45px;color:#2ea7e6;white-space:nowrap">&copy; 2024 xPay. All rights reserved.</div>
  </div>
</div>
<div class="card" style="left:86.5px;top:69.5px"><div class="ct"><svg class="ti" width="6.4" height="6.8" viewBox="0 0 13 13.6"><rect x="0" y="0" width="13" height="13.6" rx="2.2" fill="#2b9fe6"/><rect x="3.4" y="3" width="2.2" height="2.6" fill="#e8f4fd"/><rect x="7.4" y="3" width="2.2" height="2.6" fill="#e8f4fd"/><rect x="3.4" y="7.4" width="2.2" height="2.6" fill="#e8f4fd"/><rect x="7.4" y="7.4" width="2.2" height="2.6" fill="#e8f4fd"/></svg><span>Total USDT Balance</span></div><div class="cd"></div><div class="cb"><svg class="ic" width="9" height="7" viewBox="0 0 18 14"><path d="M4 0.5H14L17.5 5L9 13.5L0.5 5Z" fill="#1fa39a"/><path d="M5.5 3.2H12.5M9 3.2V9M6 5.6Q9 7 12 5.6" stroke="#fff" stroke-width="1.6" fill="none"/></svg><span class="lb">Over All Wallets</span><span class="vl">568.00 USDT</span></div></div>
<div class="card" style="left:237.8px;top:69.5px"><div class="ct"><svg class="ti" width="6.4" height="6.8" viewBox="0 0 13 13.6"><rect x="0" y="0" width="13" height="13.6" rx="2.2" fill="#2b9fe6"/><rect x="3.4" y="3" width="2.2" height="2.6" fill="#e8f4fd"/><rect x="7.4" y="3" width="2.2" height="2.6" fill="#e8f4fd"/><rect x="3.4" y="7.4" width="2.2" height="2.6" fill="#e8f4fd"/><rect x="7.4" y="7.4" width="2.2" height="2.6" fill="#e8f4fd"/></svg><span>Total TRON Balance</span></div><div class="cd"></div><div class="cb"><svg class="ic" width="8.4" height="8.4" viewBox="0 0 16 16"><circle cx="8" cy="8" r="8" fill="#e8192c"/><path d="M4 4.5L12 6L8.2 12.5Z M4 4.5L8.2 12.5 M12 6L6.5 6.8" stroke="#fff" stroke-width="1.2" fill="none" stroke-linejoin="round"/></svg><span class="lb">Over All Wallets</span><span class="vl">380.00 TRX</span></div></div>
<div class="card" style="left:389.1px;top:69.5px"><div class="ct"><svg class="ti" width="6.3" height="6.8" viewBox="0 0 13 14"><rect width="13" height="14" rx="2.2" fill="#1f9be6"/><path d="M3.6 4L8.8 9.4M9.4 6.2V9.9H5.8" stroke="#e8f6ff" stroke-width="1.4" fill="none"/></svg><span>Total USDT Received</span></div><div class="cd"></div><div class="cb"><svg class="ic" width="9" height="7" viewBox="0 0 18 14"><path d="M4 0.5H14L17.5 5L9 13.5L0.5 5Z" fill="#1fa39a"/><path d="M5.5 3.2H12.5M9 3.2V9M6 5.6Q9 7 12 5.6" stroke="#fff" stroke-width="1.6" fill="none"/></svg><span class="lb">All Time, Over All Wallets</span><span class="vl">568.00 USDT</span></div></div>
<div class="card" style="left:540.4px;top:69.5px"><div class="ct"><svg class="ti" width="6.3" height="6.8" viewBox="0 0 13 14"><rect width="13" height="14" rx="2.2" fill="#1f9be6"/><path d="M4 10.2L9.2 4.6M6 4H9.7V7.8" stroke="#e8f6ff" stroke-width="1.4" fill="none"/></svg><span>Total USDT Sent</span></div><div class="cd"></div><div class="cb"><svg class="ic" width="9" height="7" viewBox="0 0 18 14"><path d="M4 0.5H14L17.5 5L9 13.5L0.5 5Z" fill="#1fa39a"/><path d="M5.5 3.2H12.5M9 3.2V9M6 5.6Q9 7 12 5.6" stroke="#fff" stroke-width="1.6" fill="none"/></svg><span class="lb">All Time, Over All Wallets</span><span class="vl">0.00 USDT</span></div></div>
<div class="card" style="left:162.0px;top:138.5px"><div class="ct"><svg class="ti" width="6.3" height="6.8" viewBox="0 0 13 14"><rect width="13" height="14" rx="2.2" fill="#1f9be6"/><path d="M3.6 4L8.8 9.4M9.4 6.2V9.9H5.8" stroke="#e8f6ff" stroke-width="1.4" fill="none"/></svg><span>Total TRON Received</span></div><div class="cd"></div><div class="cb"><svg class="ic" width="8.4" height="8.4" viewBox="0 0 16 16"><circle cx="8" cy="8" r="8" fill="#e8192c"/><path d="M4 4.5L12 6L8.2 12.5Z M4 4.5L8.2 12.5 M12 6L6.5 6.8" stroke="#fff" stroke-width="1.2" fill="none" stroke-linejoin="round"/></svg><span class="lb">All Time, Over All Wallets</span><span class="vl">379.00 TRX</span></div></div>
<div class="card" style="left:313.2px;top:138.5px"><div class="ct"><svg class="ti" width="6.3" height="6.8" viewBox="0 0 13 14"><rect width="13" height="14" rx="2.2" fill="#1f9be6"/><path d="M4 10.2L9.2 4.6M6 4H9.7V7.8" stroke="#e8f6ff" stroke-width="1.4" fill="none"/></svg><span>Total TRON Sent</span></div><div class="cd"></div><div class="cb"><svg class="ic" width="8.4" height="8.4" viewBox="0 0 16 16"><circle cx="8" cy="8" r="8" fill="#e8192c"/><path d="M4 4.5L12 6L8.2 12.5Z M4 4.5L8.2 12.5 M12 6L6.5 6.8" stroke="#fff" stroke-width="1.2" fill="none" stroke-linejoin="round"/></svg><span class="lb">All Time, Over All Wallets</span><span class="vl">0.00 TRX</span></div></div>
<div class="card" style="left:464.6px;top:138.5px"><div class="ct"><svg class="ti" width="4.4" height="7.4" viewBox="0 0 9 15"><rect x="3" y="0" width="3" height="2" fill="#7ac043"/><rect x="0.5" y="1.6" width="8" height="13" rx="1.2" fill="#86c94a"/></svg><span>Total TRON Fees</span></div><div class="cd"></div><div class="cb"><svg class="ic" width="8.4" height="8.4" viewBox="0 0 16 16"><circle cx="8" cy="8" r="8" fill="#e8192c"/><path d="M4 4.5L12 6L8.2 12.5Z M4 4.5L8.2 12.5 M12 6L6.5 6.8" stroke="#fff" stroke-width="1.2" fill="none" stroke-linejoin="round"/></svg><span class="lb">All Time, Network Fees</span><span class="vl">0.00 TRX</span></div></div>
<div class="chartcard"></div>
<svg style="position:absolute;left:347.8px;top:226.6px" width="6.6" height="6.6" viewBox="0 0 12 12"><circle cx="6" cy="6" r="5" stroke="#666" stroke-width="1.3" fill="#fff"/><path d="M6 2.8V6H8.4" stroke="#666" stroke-width="1.1" fill="none"/></svg>
<div style="position:absolute;left:357.3px;top:226.6px;font-size:6.3px;font-weight:bold;color:#1a1a1a" class="bw">Recent Daily Volumes</div>
<div style="position:absolute;left:347.6px;top:243.7px;font-size:5.15px;color:#555">Last 30 Days</div>
<svg style="position:absolute;left:383.4px;top:245px" width="4.8" height="3.2" viewBox="0 0 6 4"><path d="M0.8 0.8L3 3L5.2 0.8" stroke="#222" stroke-width="1.5" fill="none"/></svg>
<div style="position:absolute;left:402.9px;top:243.6px;font-size:5.3px;color:#555">Line</div>
<svg style="position:absolute;left:421.9px;top:245px" width="4.8" height="3.2" viewBox="0 0 6 4"><path d="M0.8 0.8L3 3L5.2 0.8" stroke="#222" stroke-width="1.5" fill="none"/></svg>
<div style="position:absolute;left:149px;top:258.9px;width:472px;height:0.8px;background:#ececec"></div>
<div class="lgb" style="left:242.6px;background:rgba(75,192,192,0.5);border-color:rgb(75,192,192)"></div><div class="lg strike" style="left:265.2px">Tron Received</div><div class="lgb" style="left:305.6px;background:rgba(255,99,132,0.5);border-color:rgb(255,99,132)"></div><div class="lg" style="left:328.2px">USDT Received</div><div class="lgb" style="left:372.8px;background:rgba(255,205,86,0.5);border-color:rgb(255,205,86)"></div><div class="lg strike" style="left:395.4px">Tron Sent</div><div class="lgb" style="left:424.0px;background:rgba(40,80,140,0.5);border-color:rgb(40,80,140)"></div><div class="lg strike" style="left:446.6px">TRX Fees</div><div class="lgb" style="left:475.9px;background:rgba(54,162,235,0.5);border-color:rgb(54,162,235)"></div><div class="lg" style="left:498.5px">USDT Sent</div>
<svg class="chart" width="474" height="160" viewBox="148 216 474 160">
<path d="M169.70 349.30H615.80M169.70 342.46H615.80M169.70 335.62H615.80M169.70 328.78H615.80M169.70 321.94H615.80M169.70 315.10H615.80M169.70 308.26H615.80M169.70 301.42H615.80M169.70 294.58H615.80M169.70 287.74H615.80M169.70 280.90H615.80M173.30 280.90V352.90M188.05 280.90V352.90M202.80 280.90V352.90M217.55 280.90V352.90M232.30 280.90V352.90M247.05 280.90V352.90M261.80 280.90V352.90M276.55 280.90V352.90M291.30 280.90V352.90M306.05 280.90V352.90M320.80 280.90V352.90M335.55 280.90V352.90M350.30 280.90V352.90M365.05 280.90V352.90M379.80 280.90V352.90M394.55 280.90V352.90M409.30 280.90V352.90M424.05 280.90V352.90M438.80 280.90V352.90M453.55 280.90V352.90M468.30 280.90V352.90M483.05 280.90V352.90M497.80 280.90V352.90M512.55 280.90V352.90M527.30 280.90V352.90M542.05 280.90V352.90M556.80 280.90V352.90M571.55 280.90V352.90M586.30 280.90V352.90M601.05 280.90V352.90M615.80 280.90V352.90" stroke="#e6e6e6" stroke-width="0.6" fill="none"/>
<path d="M173.30 280.90V349.30" stroke="#d0d0d0" stroke-width="0.7"/>
<path d="M173.30 349.30H615.80" stroke="#c8c8c8" stroke-width="0.7"/>
<path d="M173.30 344.10C179.20 333.02 180.03 323.71 188.05 316.40C191.83 312.96 197.74 314.85 202.80 317.22C209.54 320.38 212.04 324.63 217.55 330.22C223.84 336.59 225.30 344.12 232.30 347.11C237.10 349.16 241.72 345.64 247.05 342.80C253.52 339.35 255.29 333.15 261.80 331.38C267.09 329.95 271.98 337.19 276.55 334.80C283.78 331.01 286.33 314.14 291.30 315.92C298.13 318.38 298.00 338.56 306.05 345.40C309.80 348.60 316.16 344.64 320.80 341.02C327.96 335.45 330.29 321.19 335.55 322.42C342.09 323.95 342.45 340.78 350.30 347.93C354.25 349.30 361.55 349.30 365.05 349.30C373.35 340.74 371.96 323.35 379.80 317.49C383.76 314.54 389.73 322.25 394.55 327.28C401.53 334.54 404.30 349.30 409.30 348.21C416.10 345.76 417.51 318.39 424.05 316.67C429.31 315.29 431.38 332.61 438.80 340.48C443.18 345.12 448.62 349.30 453.55 347.93C460.42 345.54 462.43 330.16 468.30 330.22C474.23 330.27 477.43 348.77 483.05 348.21C489.23 347.59 491.23 328.81 497.80 327.28C503.03 326.05 505.98 336.69 512.55 341.30C517.78 344.96 523.33 349.30 527.30 347.93C535.13 342.18 534.11 325.93 542.05 319.61C545.91 316.54 550.93 322.44 556.80 324.47C562.73 326.52 565.51 328.18 571.55 329.81C577.31 331.36 581.28 329.61 586.30 332.41C593.08 336.18 595.66 347.16 601.05 346.22C607.46 345.11 609.90 334.85 615.80 327.28L615.80 349.30L173.30 349.30Z" fill="rgba(54,162,235,0.5)"/>
<path d="M173.30 326.18C179.20 314.85 180.03 304.74 188.05 297.86C191.83 294.62 196.99 301.24 202.80 300.87C208.79 300.50 211.52 296.63 217.55 296.02C223.32 295.43 229.29 293.51 232.30 297.86C241.09 310.58 239.93 334.76 247.05 338.70C251.73 341.29 256.18 324.16 261.80 314.21C267.98 303.29 272.21 282.95 276.55 286.51C284.01 292.63 282.04 321.72 291.30 338.42C293.84 343.01 300.24 338.70 306.05 339.72C312.04 340.78 316.74 346.54 320.80 343.62C328.54 338.06 329.76 318.27 335.55 318.52C341.56 318.78 343.81 343.49 350.30 344.92C355.61 346.09 357.79 331.09 365.05 325.02C369.59 321.22 375.86 317.24 379.80 320.23C387.66 326.19 390.29 349.30 394.55 347.38C402.09 340.88 400.27 308.43 409.30 294.79C412.07 290.59 419.42 298.17 424.05 302.79C431.22 309.94 431.27 318.86 438.80 324.20C443.07 327.23 450.49 327.87 453.55 323.72C462.29 311.86 459.60 295.02 468.30 284.18C471.40 280.90 480.55 282.18 483.05 286.99C492.35 304.87 491.21 338.15 497.80 340.89C503.01 343.05 505.43 303.26 512.55 299.23C517.23 296.59 519.48 317.40 527.30 324.20C531.28 327.66 538.26 328.33 542.05 324.88C550.06 317.58 549.09 306.49 556.80 297.32C560.89 292.46 568.18 286.23 571.55 289.79C579.98 298.73 577.64 316.36 586.30 328.57C589.44 332.99 596.64 334.01 601.05 331.38C608.44 326.98 609.90 319.15 615.80 311.00L615.80 349.30L173.30 349.30Z" fill="rgba(255,99,132,0.5)"/>
<path d="M173.30 344.10C179.20 333.02 180.03 323.71 188.05 316.40C191.83 312.96 197.74 314.85 202.80 317.22C209.54 320.38 212.04 324.63 217.55 330.22C223.84 336.59 225.30 344.12 232.30 347.11C237.10 349.16 241.72 345.64 247.05 342.80C253.52 339.35 255.29 333.15 261.80 331.38C267.09 329.95 271.98 337.19 276.55 334.80C283.78 331.01 286.33 314.14 291.30 315.92C298.13 318.38 298.00 338.56 306.05 345.40C309.80 348.60 316.16 344.64 320.80 341.02C327.96 335.45 330.29 321.19 335.55 322.42C342.09 323.95 342.45 340.78 350.30 347.93C354.25 349.30 361.55 349.30 365.05 349.30C373.35 340.74 371.96 323.35 379.80 317.49C383.76 314.54 389.73 322.25 394.55 327.28C401.53 334.54 404.30 349.30 409.30 348.21C416.10 345.76 417.51 318.39 424.05 316.67C429.31 315.29 431.38 332.61 438.80 340.48C443.18 345.12 448.62 349.30 453.55 347.93C460.42 345.54 462.43 330.16 468.30 330.22C474.23 330.27 477.43 348.77 483.05 348.21C489.23 347.59 491.23 328.81 497.80 327.28C503.03 326.05 505.98 336.69 512.55 341.30C517.78 344.96 523.33 349.30 527.30 347.93C535.13 342.18 534.11 325.93 542.05 319.61C545.91 316.54 550.93 322.44 556.80 324.47C562.73 326.52 565.51 328.18 571.55 329.81C577.31 331.36 581.28 329.61 586.30 332.41C593.08 336.18 595.66 347.16 601.05 346.22C607.46 345.11 609.90 334.85 615.80 327.28" fill="none" stroke="#36a2eb" stroke-width="1.5"/>
<circle cx="173.30" cy="344.10" r="1.9" fill="#45a6ea" stroke="#36a2eb" stroke-width="0.5"/>
<circle cx="188.05" cy="316.40" r="1.9" fill="#45a6ea" stroke="#36a2eb" stroke-width="0.5"/>
<circle cx="202.80" cy="317.22" r="1.9" fill="#45a6ea" stroke="#36a2eb" stroke-width="0.5"/>
<circle cx="217.55" cy="330.22" r="1.9" fill="#45a6ea" stroke="#36a2eb" stroke-width="0.5"/>
<circle cx="232.30" cy="347.11" r="1.9" fill="#45a6ea" stroke="#36a2eb" stroke-width="0.5"/>
<circle cx="247.05" cy="342.80" r="1.9" fill="#45a6ea" stroke="#36a2eb" stroke-width="0.5"/>
<circle cx="261.80" cy="331.38" r="1.9" fill="#45a6ea" stroke="#36a2eb" stroke-width="0.5"/>
<circle cx="276.55" cy="334.80" r="1.9" fill="#45a6ea" stroke="#36a2eb" stroke-width="0.5"/>
<circle cx="291.30" cy="315.92" r="1.9" fill="#45a6ea" stroke="#36a2eb" stroke-width="0.5"/>
<circle cx="306.05" cy="345.40" r="1.9" fill="#45a6ea" stroke="#36a2eb" stroke-width="0.5"/>
<circle cx="320.80" cy="341.02" r="1.9" fill="#45a6ea" stroke="#36a2eb" stroke-width="0.5"/>
<circle cx="335.55" cy="322.42" r="1.9" fill="#45a6ea" stroke="#36a2eb" stroke-width="0.5"/>
<circle cx="350.30" cy="347.93" r="1.9" fill="#45a6ea" stroke="#36a2eb" stroke-width="0.5"/>
<circle cx="365.05" cy="349.30" r="1.9" fill="#45a6ea" stroke="#36a2eb" stroke-width="0.5"/>
<circle cx="379.80" cy="317.49" r="1.9" fill="#45a6ea" stroke="#36a2eb" stroke-width="0.5"/>
<circle cx="394.55" cy="327.28" r="1.9" fill="#45a6ea" stroke="#36a2eb" stroke-width="0.5"/>
<circle cx="409.30" cy="348.21" r="1.9" fill="#45a6ea" stroke="#36a2eb" stroke-width="0.5"/>
<circle cx="424.05" cy="316.67" r="1.9" fill="#45a6ea" stroke="#36a2eb" stroke-width="0.5"/>
<circle cx="438.80" cy="340.48" r="1.9" fill="#45a6ea" stroke="#36a2eb" stroke-width="0.5"/>
<circle cx="453.55" cy="347.93" r="1.9" fill="#45a6ea" stroke="#36a2eb" stroke-width="0.5"/>
<circle cx="468.30" cy="330.22" r="1.9" fill="#45a6ea" stroke="#36a2eb" stroke-width="0.5"/>
<circle cx="483.05" cy="348.21" r="1.9" fill="#45a6ea" stroke="#36a2eb" stroke-width="0.5"/>
<circle cx="497.80" cy="327.28" r="1.9" fill="#45a6ea" stroke="#36a2eb" stroke-width="0.5"/>
<circle cx="512.55" cy="341.30" r="1.9" fill="#45a6ea" stroke="#36a2eb" stroke-width="0.5"/>
<circle cx="527.30" cy="347.93" r="1.9" fill="#45a6ea" stroke="#36a2eb" stroke-width="0.5"/>
<circle cx="542.05" cy="319.61" r="1.9" fill="#45a6ea" stroke="#36a2eb" stroke-width="0.5"/>
<circle cx="556.80" cy="324.47" r="1.9" fill="#45a6ea" stroke="#36a2eb" stroke-width="0.5"/>
<circle cx="571.55" cy="329.81" r="1.9" fill="#45a6ea" stroke="#36a2eb" stroke-width="0.5"/>
<circle cx="586.30" cy="332.41" r="1.9" fill="#45a6ea" stroke="#36a2eb" stroke-width="0.5"/>
<circle cx="601.05" cy="346.22" r="1.9" fill="#45a6ea" stroke="#36a2eb" stroke-width="0.5"/>
<circle cx="615.80" cy="327.28" r="1.9" fill="#45a6ea" stroke="#36a2eb" stroke-width="0.5"/>
<path d="M173.30 326.18C179.20 314.85 180.03 304.74 188.05 297.86C191.83 294.62 196.99 301.24 202.80 300.87C208.79 300.50 211.52 296.63 217.55 296.02C223.32 295.43 229.29 293.51 232.30 297.86C241.09 310.58 239.93 334.76 247.05 338.70C251.73 341.29 256.18 324.16 261.80 314.21C267.98 303.29 272.21 282.95 276.55 286.51C284.01 292.63 282.04 321.72 291.30 338.42C293.84 343.01 300.24 338.70 306.05 339.72C312.04 340.78 316.74 346.54 320.80 343.62C328.54 338.06 329.76 318.27 335.55 318.52C341.56 318.78 343.81 343.49 350.30 344.92C355.61 346.09 357.79 331.09 365.05 325.02C369.59 321.22 375.86 317.24 379.80 320.23C387.66 326.19 390.29 349.30 394.55 347.38C402.09 340.88 400.27 308.43 409.30 294.79C412.07 290.59 419.42 298.17 424.05 302.79C431.22 309.94 431.27 318.86 438.80 324.20C443.07 327.23 450.49 327.87 453.55 323.72C462.29 311.86 459.60 295.02 468.30 284.18C471.40 280.90 480.55 282.18 483.05 286.99C492.35 304.87 491.21 338.15 497.80 340.89C503.01 343.05 505.43 303.26 512.55 299.23C517.23 296.59 519.48 317.40 527.30 324.20C531.28 327.66 538.26 328.33 542.05 324.88C550.06 317.58 549.09 306.49 556.80 297.32C560.89 292.46 568.18 286.23 571.55 289.79C579.98 298.73 577.64 316.36 586.30 328.57C589.44 332.99 596.64 334.01 601.05 331.38C608.44 326.98 609.90 319.15 615.80 311.00" fill="none" stroke="#ff6384" stroke-width="1.25"/>
<circle cx="173.30" cy="326.18" r="1.8" fill="#ff7592" stroke="#ff6384" stroke-width="0.8"/>
<circle cx="188.05" cy="297.86" r="1.8" fill="#ff7592" stroke="#ff6384" stroke-width="0.8"/>
<circle cx="202.80" cy="300.87" r="1.8" fill="#ff7592" stroke="#ff6384" stroke-width="0.8"/>
<circle cx="217.55" cy="296.02" r="1.8" fill="#ff7592" stroke="#ff6384" stroke-width="0.8"/>
<circle cx="232.30" cy="297.86" r="1.8" fill="#ff7592" stroke="#ff6384" stroke-width="0.8"/>
<circle cx="247.05" cy="338.70" r="1.8" fill="#ff7592" stroke="#ff6384" stroke-width="0.8"/>
<circle cx="261.80" cy="314.21" r="1.8" fill="#ff7592" stroke="#ff6384" stroke-width="0.8"/>
<circle cx="276.55" cy="286.51" r="1.8" fill="#ff7592" stroke="#ff6384" stroke-width="0.8"/>
<circle cx="291.30" cy="338.42" r="1.8" fill="#ff7592" stroke="#ff6384" stroke-width="0.8"/>
<circle cx="306.05" cy="339.72" r="1.8" fill="#ff7592" stroke="#ff6384" stroke-width="0.8"/>
<circle cx="320.80" cy="343.62" r="1.8" fill="#ff7592" stroke="#ff6384" stroke-width="0.8"/>
<circle cx="335.55" cy="318.52" r="1.8" fill="#ff7592" stroke="#ff6384" stroke-width="0.8"/>
<circle cx="350.30" cy="344.92" r="1.8" fill="#ff7592" stroke="#ff6384" stroke-width="0.8"/>
<circle cx="365.05" cy="325.02" r="1.8" fill="#ff7592" stroke="#ff6384" stroke-width="0.8"/>
<circle cx="379.80" cy="320.23" r="1.8" fill="#ff7592" stroke="#ff6384" stroke-width="0.8"/>
<circle cx="394.55" cy="347.38" r="1.8" fill="#ff7592" stroke="#ff6384" stroke-width="0.8"/>
<circle cx="409.30" cy="294.79" r="1.8" fill="#ff7592" stroke="#ff6384" stroke-width="0.8"/>
<circle cx="424.05" cy="302.79" r="1.8" fill="#ff7592" stroke="#ff6384" stroke-width="0.8"/>
<circle cx="438.80" cy="324.20" r="1.8" fill="#ff7592" stroke="#ff6384" stroke-width="0.8"/>
<circle cx="453.55" cy="323.72" r="1.8" fill="#ff7592" stroke="#ff6384" stroke-width="0.8"/>
<circle cx="468.30" cy="284.18" r="1.8" fill="#ff7592" stroke="#ff6384" stroke-width="0.8"/>
<circle cx="483.05" cy="286.99" r="1.8" fill="#ff7592" stroke="#ff6384" stroke-width="0.8"/>
<circle cx="497.80" cy="340.89" r="1.8" fill="#ff7592" stroke="#ff6384" stroke-width="0.8"/>
<circle cx="512.55" cy="299.23" r="1.8" fill="#ff7592" stroke="#ff6384" stroke-width="0.8"/>
<circle cx="527.30" cy="324.20" r="1.8" fill="#ff7592" stroke="#ff6384" stroke-width="0.8"/>
<circle cx="542.05" cy="324.88" r="1.8" fill="#ff7592" stroke="#ff6384" stroke-width="0.8"/>
<circle cx="556.80" cy="297.32" r="1.8" fill="#ff7592" stroke="#ff6384" stroke-width="0.8"/>
<circle cx="571.55" cy="289.79" r="1.8" fill="#ff7592" stroke="#ff6384" stroke-width="0.8"/>
<circle cx="586.30" cy="328.57" r="1.8" fill="#ff7592" stroke="#ff6384" stroke-width="0.8"/>
<circle cx="601.05" cy="331.38" r="1.8" fill="#ff7592" stroke="#ff6384" stroke-width="0.8"/>
<circle cx="615.80" cy="311.00" r="1.8" fill="#ff7592" stroke="#ff6384" stroke-width="0.8"/>
<text transform="translate(168.6 351.30) scale(0.88 1)" class="yl">0</text>
<text transform="translate(168.6 344.46) scale(0.88 1)" class="yl">100</text>
<text transform="translate(168.6 337.62) scale(0.88 1)" class="yl">200</text>
<text transform="translate(168.6 330.78) scale(0.88 1)" class="yl">300</text>
<text transform="translate(168.6 323.94) scale(0.88 1)" class="yl">400</text>
<text transform="translate(168.6 317.10) scale(0.88 1)" class="yl">500</text>
<text transform="translate(168.6 310.26) scale(0.88 1)" class="yl">600</text>
<text transform="translate(168.6 303.42) scale(0.88 1)" class="yl">700</text>
<text transform="translate(168.6 296.58) scale(0.88 1)" class="yl">800</text>
<text transform="translate(168.6 289.74) scale(0.88 1)" class="yl">900</text>
<text transform="translate(168.6 282.90) scale(0.88 1)" class="yl">1000</text>
<text transform="translate(173.90 356.0) rotate(-35) scale(0.86 1)" class="xl">2024/01/18</text>
<text transform="translate(188.65 356.0) rotate(-35) scale(0.86 1)" class="xl">2024/01/19</text>
<text transform="translate(203.40 356.0) rotate(-35) scale(0.86 1)" class="xl">2024/01/20</text>
<text transform="translate(218.15 356.0) rotate(-35) scale(0.86 1)" class="xl">2024/01/21</text>
<text transform="translate(232.90 356.0) rotate(-35) scale(0.86 1)" class="xl">2024/01/22</text>
<text transform="translate(247.65 356.0) rotate(-35) scale(0.86 1)" class="xl">2024/01/23</text>
<text transform="translate(262.40 356.0) rotate(-35) scale(0.86 1)" class="xl">2024/01/24</text>
<text transform="translate(277.15 356.0) rotate(-35) scale(0.86 1)" class="xl">2024/01/25</text>
<text transform="translate(291.90 356.0) rotate(-35) scale(0.86 1)" class="xl">2024/01/26</text>
<text transform="translate(306.65 356.0) rotate(-35) scale(0.86 1)" class="xl">2024/01/27</text>
<text transform="translate(321.40 356.0) rotate(-35) scale(0.86 1)" class="xl">2024/01/28</text>
<text transform="translate(336.15 356.0) rotate(-35) scale(0.86 1)" class="xl">2024/01/29</text>
<text transform="translate(350.90 356.0) rotate(-35) scale(0.86 1)" class="xl">2024/01/30</text>
<text transform="translate(365.65 356.0) rotate(-35) scale(0.86 1)" class="xl">2024/01/31</text>
<text transform="translate(380.40 356.0) rotate(-35) scale(0.86 1)" class="xl">2024/02/01</text>
<text transform="translate(395.15 356.0) rotate(-35) scale(0.86 1)" class="xl">2024/02/02</text>
<text transform="translate(409.90 356.0) rotate(-35) scale(0.86 1)" class="xl">2024/02/03</text>
<text transform="translate(424.65 356.0) rotate(-35) scale(0.86 1)" class="xl">2024/02/04</text>
<text transform="translate(439.40 356.0) rotate(-35) scale(0.86 1)" class="xl">2024/02/05</text>
<text transform="translate(454.15 356.0) rotate(-35) scale(0.86 1)" class="xl">2024/02/06</text>
<text transform="translate(468.90 356.0) rotate(-35) scale(0.86 1)" class="xl">2024/02/07</text>
<text transform="translate(483.65 356.0) rotate(-35) scale(0.86 1)" class="xl">2024/02/08</text>
<text transform="translate(498.40 356.0) rotate(-35) scale(0.86 1)" class="xl">2024/02/09</text>
<text transform="translate(513.15 356.0) rotate(-35) scale(0.86 1)" class="xl">2024/02/10</text>
<text transform="translate(527.90 356.0) rotate(-35) scale(0.86 1)" class="xl">2024/02/11</text>
<text transform="translate(542.65 356.0) rotate(-35) scale(0.86 1)" class="xl">2024/02/12</text>
<text transform="translate(557.40 356.0) rotate(-35) scale(0.86 1)" class="xl">2024/02/13</text>
<text transform="translate(572.15 356.0) rotate(-35) scale(0.86 1)" class="xl">2024/02/14</text>
<text transform="translate(586.90 356.0) rotate(-35) scale(0.86 1)" class="xl">2024/02/15</text>
<text transform="translate(601.65 356.0) rotate(-35) scale(0.86 1)" class="xl">2024/02/16</text>
<text transform="translate(616.40 356.0) rotate(-35) scale(0.86 1)" class="xl">2024/02/17</text>
</svg>
<div style="position:absolute;left:370.2px;top:386.4px;width:29px;height:14.4px;background:#e9e9e9;border:1px solid #5a5a5a;border-radius:2.5px"></div>
<svg style="position:absolute;left:381.8px;top:390.4px" width="5.8" height="5.8" viewBox="0 0 12 12"><rect width="12" height="12" rx="2" fill="#2b9fe6"/><path d="M8.5 4.3A3 3 0 1 0 8.7 7.5M8.8 2.6V4.6H6.8" stroke="#fff" stroke-width="1.4" fill="none"/></svg>
<div style="position:absolute;left:714.2px;top:395.6px;width:30.8px;height:28.4px;background:#f9f9f9;box-shadow:0 0 2.5px rgba(0,0,0,.3);border-radius:1.5px">
<svg style="position:absolute;left:7.4px;top:3.0px" width="18.4" height="18" viewBox="0 0 36 36">
<path d="M7.5 22A11 11 0 0 1 16 7.2" stroke="#4a8af4" stroke-width="8" fill="none"/>
<path d="M2 0L16 1.5L5 13Z" fill="#4a8af4"/>
<path d="M19 7A11 11 0 0 1 28.8 14" stroke="#1a3ca8" stroke-width="8" fill="none"/>
<path d="M36 9L34 24L21.5 13.5Z" fill="#1a3ca8"/>
<path d="M29.5 22A11 11 0 0 1 7 19" stroke="#b0b0b0" stroke-width="8" fill="none"/>
</svg>
<div style="position:absolute;left:0;width:100%;top:23.4px;text-align:center;font-size:3.9px;line-height:4px;color:#555">Privacy - Terms</div>
</div>
</div>
</body></html>
